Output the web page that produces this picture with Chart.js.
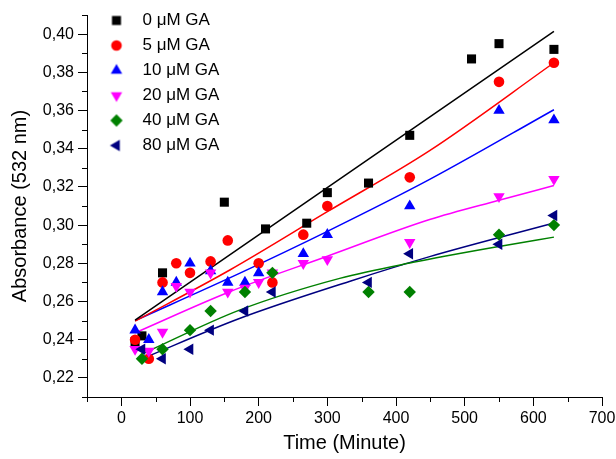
<!DOCTYPE html>
<html>
<head>
<meta charset="utf-8">
<script src="https://cdn.jsdelivr.net/npm/chart.js@4/dist/chart.umd.min.js"></script>
<style>
html,body{margin:0;padding:0;background:#fff;}
#wrap{width:616px;height:459px;}
</style>
</head>
<body>
<div id="wrap"><canvas id="c" width="616" height="459"></canvas></div>
<script>
// ---------- data ----------
const seriesLabels = ['0 μM GA', '5 μM GA', '10 μM GA', '20 μM GA', '40 μM GA', '80 μM GA'];

const time0 = [20, 30, 60, 150, 210, 270, 300, 360, 420, 510, 550, 630];
const abs0  = [0.239, 0.242, 0.275, 0.312, 0.298, 0.301, 0.317, 0.322, 0.347, 0.387, 0.395, 0.392];

const time5 = [20, 40, 60, 80, 100, 130, 155, 200, 220, 265, 300, 420, 550, 630];
const abs5  = [0.240, 0.230, 0.270, 0.280, 0.275, 0.281, 0.292, 0.280, 0.270, 0.295, 0.310, 0.325, 0.375, 0.385];

const time10 = [20, 40, 60, 80, 100, 130, 155, 180, 200, 265, 300, 420, 550, 630];
const abs10  = [0.245, 0.240, 0.265, 0.270, 0.280, 0.276, 0.270, 0.270, 0.275, 0.285, 0.295, 0.310, 0.360, 0.355];

const time20 = [20, 40, 60, 80, 100, 130, 155, 180, 200, 220, 265, 300, 420, 550, 630];
const abs20  = [0.235, 0.234, 0.244, 0.268, 0.265, 0.275, 0.265, 0.267, 0.270, 0.275, 0.280, 0.282, 0.291, 0.315, 0.324];

const time40 = [30, 60, 100, 130, 180, 220, 360, 420, 550, 630];
const abs40  = [0.230, 0.235, 0.245, 0.255, 0.265, 0.275, 0.265, 0.265, 0.295, 0.300];

const time80 = [30, 60, 100, 130, 180, 220, 360, 420, 550, 630];
const abs80  = [0.235, 0.230, 0.235, 0.245, 0.255, 0.265, 0.270, 0.285, 0.290, 0.305];

// fitted curves
const fitTime0 = [20, 630];
const fitAbs0  = [0.2502, 0.4014];
const fitTime5 = [20, 158, 300, 449, 630];
const fitAbs5  = [0.2497, 0.2765, 0.3070, 0.3390, 0.3850];
const fitTime10 = [20, 172, 300, 449, 630];
const fitAbs10  = [0.2500, 0.2747, 0.2967, 0.3239, 0.3604];
const fitTime20 = [20, 157, 300, 449, 550, 630];
const fitAbs20  = [0.2436, 0.2650, 0.2837, 0.3029, 0.3130, 0.3207];
const fitTime40 = [30, 172, 318, 425, 550, 630];
const fitAbs40  = [0.2325, 0.2555, 0.2721, 0.2805, 0.2888, 0.2937];
const fitTime80 = [30, 172, 332, 449, 630];
const fitAbs80  = [0.2300, 0.2511, 0.2705, 0.2835, 0.3011];

const xTickValues = [0, 100, 200, 300, 400, 500, 600, 700];
const xTickLabels = ['0', '100', '200', '300', '400', '500', '600', '700'];
const yTickValues = [0.22, 0.24, 0.26, 0.28, 0.30, 0.32, 0.34, 0.36, 0.38, 0.40];
const yTickLabels = ['0,22', '0,24', '0,26', '0,28', '0,30', '0,32', '0,34', '0,36', '0,38', '0,40'];

// ---------- styles ----------
const FONT = '"Liberation Sans", Arial, Helvetica, sans-serif';
const colors = ['#000000', '#ff0000', '#0000ff', '#ff00ff', '#008000', '#000080'];
const markerStyles = ['rect', 'circle', 'triangle', 'triangle', 'rectRot', 'triangle'];
const markerRotations = [0, 0, 0, 180, 0, 270];
const markerRadii = [6.4, 5.3, 6.6, 6.6, 6.2, 6.6];

const series = [
  {xs: time0, ys: abs0, fx: fitTime0, fy: fitAbs0},
  {xs: time5, ys: abs5, fx: fitTime5, fy: fitAbs5},
  {xs: time10, ys: abs10, fx: fitTime10, fy: fitAbs10},
  {xs: time20, ys: abs20, fx: fitTime20, fy: fitAbs20},
  {xs: time40, ys: abs40, fx: fitTime40, fy: fitAbs40},
  {xs: time80, ys: abs80, fx: fitTime80, fy: fitAbs80}
];

const datasets = [];
series.forEach((s, i) => {
  datasets.push({
    label: seriesLabels[i],
    data: s.xs.map((x, k) => ({x: x, y: s.ys[k]})),
    showLine: false,
    pointStyle: markerStyles[i],
    pointRotation: markerRotations[i],
    pointRadius: markerRadii[i],
    pointHoverRadius: markerRadii[i],
    pointBackgroundColor: colors[i],
    pointBorderColor: colors[i],
    pointBorderWidth: 0,
    borderColor: colors[i],
    backgroundColor: colors[i],
    order: 10 - i
  });
});
series.forEach((s, i) => {
  datasets.push({
    label: seriesLabels[i] + ' fit',
    data: s.fx.map((x, k) => ({x: x, y: s.fy[k]})),
    showLine: true,
    pointRadius: 0,
    pointHoverRadius: 0,
    borderColor: colors[i],
    backgroundColor: colors[i],
    borderWidth: 1.5,
    cubicInterpolationMode: 'monotone',
    fill: false,
    order: 100 + i
  });
});

function legendIcon(i) {
  const c = document.createElement('canvas');
  c.width = 20; c.height = 20;
  const g = c.getContext('2d');
  g.fillStyle = colors[i];
  g.strokeStyle = colors[i];
  const opts = {pointStyle: markerStyles[i], rotation: markerRotations[i], radius: markerRadii[i], borderWidth: 0};
  if (Chart.helpers && Chart.helpers.drawPoint) {
    Chart.helpers.drawPoint(g, opts, 10, 10);
  } else {
    g.beginPath(); g.arc(10, 10, markerRadii[i], 0, Math.PI * 2); g.fill();
  }
  return c;
}

const minorTicks = {
  id: 'minorTicks',
  afterDraw(chart) {
    const {ctx, chartArea: a} = chart;
    const xs = chart.scales.x, ys = chart.scales.y;
    ctx.save();
    ctx.strokeStyle = '#000';
    ctx.lineWidth = 1;
    ctx.beginPath();
    for (let k = 21; k <= 41; k += 2) {
      const p = Math.round(ys.getPixelForValue(k / 100)) + 0.5;
      ctx.moveTo(a.left - 5, p); ctx.lineTo(a.left, p);
    }
    for (let k = -50; k <= 650; k += 100) {
      const p = Math.round(xs.getPixelForValue(k)) + 0.5;
      ctx.moveTo(p, a.bottom); ctx.lineTo(p, a.bottom + 5);
    }
    ctx.stroke();
    ctx.restore();
  }
};

const legendShift = {
  id: 'legendShift',
  afterLayout(chart) {
    const lg = chart.legend;
    if (!lg) return;
    lg.left += 4; lg.right += 4;
    lg.top += 4; lg.bottom += 4;
  }
};

new Chart(document.getElementById('c'), {
  type: 'scatter',
  data: {datasets: datasets},
  options: {
    responsive: false,
    devicePixelRatio: 1,
    animation: false,
    layout: {padding: {left: 0, right: 14, top: 15, bottom: 0}},
    plugins: {
      tooltip: {enabled: false},
      legend: {
        position: 'chartArea',
        align: 'start',
        labels: {
          usePointStyle: true,
          pointStyleWidth: 35,
          boxHeight: 12,
          padding: 8,
          color: '#000',
          font: {family: FONT, size: 17},
          filter: item => item.datasetIndex < 6,
          sort: (a, b) => a.datasetIndex - b.datasetIndex,
          generateLabels: chart => {
            const items = Chart.defaults.plugins.legend.labels.generateLabels(chart);
            return items.map(it => {
              if (it.datasetIndex < 6) {
                it.pointStyle = legendIcon(it.datasetIndex);
                it.rotation = 0;
              }
              return it;
            });
          }
        }
      }
    },
    scales: {
      x: {
        type: 'linear',
        min: -50, max: 700,
        afterBuildTicks: s => { s.ticks = xTickValues.map(v => ({value: v})); },
        afterFit: s => { s.height = 62; s.paddingLeft = 0; s.paddingRight = 0; },
        ticks: {
          color: '#000', padding: 3, autoSkip: false, maxRotation: 0,
          font: {family: FONT, size: 16},
          callback: (v, i) => xTickLabels[i]
        },
        grid: {drawOnChartArea: false, drawTicks: true, tickLength: 9, color: '#000', lineWidth: 1},
        border: {display: true, color: '#000', width: 1},
        title: {display: true, text: 'Time (Minute)', color: '#000', font: {family: FONT, size: 20}, padding: {top: 0, bottom: 4}}
      },
      y: {
        type: 'linear',
        min: 0.21, max: 0.41,
        afterBuildTicks: s => { s.ticks = yTickValues.map(v => ({value: v})); },
        afterFit: s => { s.width = 87; s.paddingTop = 0; s.paddingBottom = 0; },
        ticks: {
          color: '#000', padding: 4, autoSkip: false,
          font: {family: FONT, size: 16},
          callback: (v, i) => yTickLabels[i]
        },
        grid: {drawOnChartArea: false, drawTicks: true, tickLength: 9, color: '#000', lineWidth: 1},
        border: {display: true, color: '#000', width: 1},
        title: {display: true, text: 'Absorbance (532 nm)', color: '#000', font: {family: FONT, size: 20}, padding: {top: 8, bottom: 0}}
      }
    }
  },
  plugins: [minorTicks, legendShift]
});
</script>
</body>
</html>
